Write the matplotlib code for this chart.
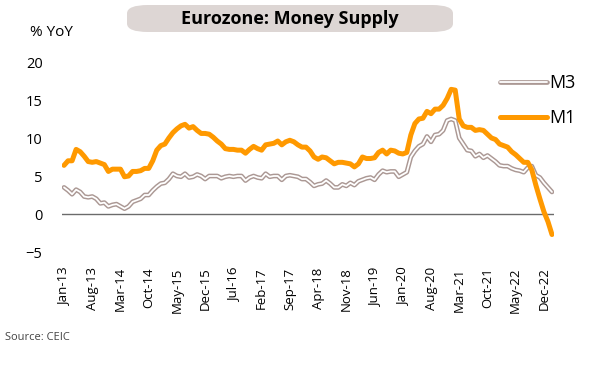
import matplotlib
matplotlib.use("Agg")
import matplotlib.pyplot as plt
from matplotlib.patches import FancyBboxPatch
import pandas as pd

plt.rcParams['font.family'] = ['Open Sans', 'DejaVu Sans']

# monthly % YoY, Jan-13 .. Feb-23
m3 = [3.5, 3.1, 2.6, 3.2, 2.9, 2.3, 2.2, 2.3, 2.0, 1.4, 1.5, 1.0,
      1.2, 1.3, 1.0, 0.7, 1.0, 1.6, 1.8, 2.0, 2.5, 2.5, 3.1, 3.6,
      4.0, 4.1, 4.6, 5.3, 5.0, 4.9, 5.3, 4.8, 4.9, 5.2, 5.0, 4.6,
      5.0, 5.0, 5.0, 4.7, 4.9, 5.0, 4.9, 5.0, 5.0, 4.4, 4.8, 5.0,
      4.8, 4.7, 5.3, 4.9, 5.0, 5.0, 4.5, 5.0, 5.1, 5.0, 4.9, 4.6,
      4.6, 4.2, 3.7, 3.9, 4.0, 4.4, 4.0, 3.5, 3.5, 3.9, 3.7, 4.1,
      3.8, 4.3, 4.5, 4.7, 4.8, 4.5, 5.2, 5.7, 5.5, 5.6, 5.6, 4.9,
      5.2, 5.5, 7.5, 8.3, 8.9, 9.2, 10.2, 9.5, 10.4, 10.5, 11.0, 12.3,
      12.5, 12.3, 10.0, 9.2, 8.4, 8.3, 7.6, 7.9, 7.4, 7.7, 7.3, 6.9,
      6.4, 6.3, 6.3, 6.0, 5.8, 5.7, 5.5, 6.1, 6.3, 5.1, 4.8, 4.1,
      3.5, 2.9]
m1 = [6.4, 7.0, 7.0, 8.5, 8.2, 7.6, 6.9, 6.8, 6.9, 6.7, 6.5, 5.6,
      5.9, 5.9, 5.9, 4.9, 5.0, 5.6, 5.6, 5.7, 6.0, 6.0, 7.0, 8.4,
      9.0, 9.2, 10.0, 10.7, 11.2, 11.6, 11.8, 11.3, 11.5, 11.0, 10.6, 10.6,
      10.5, 10.1, 9.6, 9.2, 8.6, 8.5, 8.5, 8.4, 8.4, 8.0, 8.5, 8.9,
      8.6, 8.4, 9.1, 9.2, 9.3, 9.6, 9.1, 9.5, 9.7, 9.5, 9.1, 8.8,
      8.8, 8.3, 7.5, 7.2, 7.5, 7.4, 7.0, 6.6, 6.8, 6.8, 6.7, 6.6,
      6.2, 6.6, 7.5, 7.3, 7.3, 7.4, 8.1, 8.4, 7.9, 8.4, 8.3, 8.0,
      7.9, 8.1, 10.4, 11.9, 12.5, 12.6, 13.5, 13.2, 13.8, 13.8, 14.3, 15.2,
      16.4, 16.3, 12.5, 11.6, 11.4, 11.4, 11.0, 11.1, 11.0, 10.5, 10.0, 9.8,
      9.2, 9.0, 8.8, 8.2, 7.8, 7.3, 6.8, 6.8, 5.8, 3.8, 2.0, 0.3,
      -1.0, -2.7]

dates = pd.date_range("2013-01-01", periods=len(m1), freq="MS")
x = list(range(len(dates)))
tick_idx = list(range(0, len(dates), 7))
tick_labels = [dates[i].strftime("%b-%y") for i in tick_idx]

fig = plt.figure(figsize=(6, 3.81), dpi=100)
ax = fig.add_axes([62 / 600, 1 - 252 / 381, 492 / 600, 190 / 381])

m3_out, = ax.plot(x, m3, color='#ab9894', lw=3.4, solid_capstyle='round', zorder=3)
m3_in, = ax.plot(x, m3, color='white', lw=1.3, solid_capstyle='round', zorder=4)
m1_line, = ax.plot(x, m1, color='#ff9900', lw=3.6, solid_capstyle='round', zorder=5)
ax.axhline(0, color='#6b6b6b', lw=1.0, zorder=2)

ax.set_xlim(-0.5, len(x) - 0.5)
ax.set_ylim(-5, 20)
ax.set_yticks([-5, 0, 5, 10, 15, 20])
ax.set_xticks(tick_idx)
ax.set_xticklabels(tick_labels, rotation=90, fontsize=9.5)
ax.tick_params(axis='y', labelsize=10.5, length=0, pad=14)
ax.tick_params(axis='x', length=0, pad=11)
for s in ax.spines.values():
    s.set_visible(False)

leg = ax.legend([(m3_out, m3_in), m1_line], ['M3', 'M1'], loc='upper left',
                bbox_to_anchor=(491 / 600, 1 - 65 / 381), bbox_transform=fig.transFigure,
                frameon=False, fontsize=13, handlelength=2.6, handletextpad=0.1,
                labelspacing=0.95, borderpad=0)

# title box
fig.patches.append(FancyBboxPatch((127 / 600, 1 - 32 / 381), 326 / 600, 27 / 381,
                                  boxstyle="round,pad=0,rounding_size=0.035",
                                  transform=fig.transFigure, facecolor='#ddd6d4',
                                  edgecolor='none', mutation_aspect=381 / 600))
fig.text(290 / 600, 1 - 18.5 / 381, "Eurozone: Money Supply", ha='center', va='center',
         fontsize=13, fontweight='bold')
fig.text(30 / 600, 1 - 33 / 381, "% YoY", ha='left', va='center', fontsize=11)
fig.text(5 / 600, 1 - 337 / 381, "Source: CEIC", ha='left', va='center', fontsize=8,
         color='#444444')

fig.savefig("out.png", dpi=100)
